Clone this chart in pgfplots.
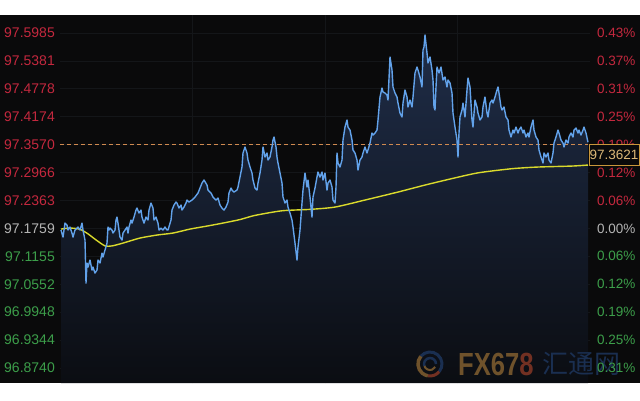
\documentclass[border=0pt]{standalone}
\usepackage{pgfplots}
\usepackage{pgfplotstable}
\pgfplotsset{compat=1.18}
\usepackage{fontspec}
\setmainfont{Liberation Sans}
\newfontfamily\cjk{Noto Sans CJK SC}
\definecolor{bgc}{HTML}{0A0A0B}
\definecolor{gridc}{HTML}{141619}
\definecolor{pred}{HTML}{C4283E}
\definecolor{pgray}{HTML}{B4B4B4}
\definecolor{pgreen}{HTML}{3C9E4A}
\definecolor{bluec}{HTML}{62A2EA}
\definecolor{yelc}{HTML}{DADA2C}
\definecolor{dashc}{HTML}{D08A50}
\definecolor{boxc}{HTML}{C8963A}
\definecolor{boxtext}{HTML}{DCB878}
\definecolor{filltop}{HTML}{1F2D48}
\definecolor{fillbot}{HTML}{0B0D12}
\definecolor{wmorange}{HTML}{7A5A2E}
\definecolor{wmred}{HTML}{7E3424}
\definecolor{wmblue}{HTML}{1C3358}

\pgfplotstableread{
x y
1 97.1723
3 97.1571
5 97.1874
7 97.1831
8 97.1723
10 97.1788
12 97.1658
13 97.1571
15 97.1723
17 97.1766
18 97.1788
20 97.1723
22 97.1874
23 97.1723
25 97.1506
26 97.0576
27 97.1009
28 97.0922
30 97.1074
32 97.0857
33 97.0922
35 97.0792
37 97.0857
38 97.1074
40 97.1009
42 97.1225
43 97.1139
45 97.1290
47 97.1441
48 97.1788
49 97.1723
50 97.1766
52 97.1723
53 97.1658
55 97.1723
56 97.1939
57 97.2004
58 97.1874
60 97.1571
62 97.1506
63 97.1658
65 97.1723
67 97.1788
68 97.1658
69 97.1788
71 97.1939
72 97.1874
74 97.2004
76 97.2155
77 97.2199
79 97.2091
81 97.2155
82 97.2004
84 97.1874
86 97.2004
88 97.1939
89 97.2155
91 97.2307
93 97.2199
94 97.1939
96 97.2004
98 97.1874
99 97.1723
101 97.1766
103 97.1723
105 97.1788
107 97.1723
108 97.1723
111 97.1939
112 97.2155
114 97.2264
116 97.2329
117 97.2307
119 97.2199
121 97.2264
122 97.2155
124 97.2220
126 97.2307
127 97.2372
129 97.2329
132 97.2372
135 97.2437
138 97.2523
142 97.2740
144 97.2805
147 97.2696
148 97.2588
151 97.2523
153 97.2437
156 97.2372
158 97.2415
160 97.2264
162 97.2199
164 97.2155
166 97.2220
168 97.2329
169 97.2523
171 97.2631
172 97.2588
174 97.2545
177 97.2588
178 97.2653
180 97.2869
182 97.3086
183 97.3389
185 97.3519
187 97.3389
188 97.3237
190 97.3086
192 97.2956
193 97.2805
195 97.2631
197 97.2588
198 97.2740
200 97.2956
202 97.3237
203 97.3519
205 97.3302
207 97.3389
208 97.3237
210 97.3302
212 97.3519
213 97.3670
214 97.3735
216 97.3519
217 97.3302
218 97.3172
220 97.2956
222 97.2740
223 97.2437
225 97.2307
227 97.2372
228 97.2220
230 97.2091
232 97.1939
233 97.1788
235 97.1441
237 97.1074
238 97.1355
240 97.1723
242 97.2307
243 97.2588
245 97.2956
247 97.2653
248 97.2805
250 97.2437
252 97.2004
253 97.2437
255 97.2631
257 97.2869
258 97.2978
260 97.2869
262 97.2978
263 97.2805
265 97.2956
267 97.2588
268 97.2740
270 97.2805
272 97.2653
273 97.2372
275 97.2307
276 97.2653
277 97.3389
278 97.3172
280 97.3086
282 97.3237
283 97.3670
285 97.3951
287 97.4103
288 97.3951
290 97.3886
292 97.3670
293 97.3454
295 97.3389
297 97.3237
298 97.3021
300 97.3237
302 97.3302
303 97.3389
305 97.3519
307 97.3389
308 97.3454
310 97.3605
312 97.3821
313 97.3778
315 97.3821
317 97.3886
318 97.4103
320 97.4600
322 97.4795
323 97.4708
325 97.4687
327 97.4644
328 97.4535
330 97.5466
332 97.5184
333 97.4817
335 97.4687
337 97.4600
338 97.4470
340 97.4254
342 97.4168
343 97.4470
345 97.4752
347 97.4600
348 97.4384
350 97.4535
352 97.4384
353 97.4600
355 97.5120
357 97.5249
358 97.5184
360 97.5033
362 97.4817
363 97.5617
364 97.5682
365 97.5942
367 97.5552
368 97.5336
370 97.5466
372 97.5184
373 97.4968
374 97.4384
375 97.4319
376 97.4817
377 97.5249
379 97.5120
381 97.5249
383 97.4968
385 97.5033
387 97.4817
388 97.4968
390 97.4903
392 97.4687
393 97.4254
395 97.3951
397 97.3670
398 97.3302
399 97.3821
400 97.4168
402 97.4319
403 97.4470
405 97.4168
407 97.4752
408 97.5011
410 97.4817
412 97.4103
413 97.3951
415 97.4535
417 97.4384
418 97.4254
420 97.4103
422 97.4168
423 97.4384
425 97.4600
427 97.4254
428 97.4168
430 97.4470
432 97.4535
433 97.4470
435 97.4600
437 97.4752
438 97.4817
439 97.4687
441 97.4384
442 97.4319
444 97.4384
446 97.4168
448 97.4103
449 97.3886
451 97.3735
453 97.3886
454 97.3821
456 97.3951
458 97.3821
459 97.3886
461 97.3951
463 97.3821
464 97.3886
466 97.3735
468 97.3821
469 97.3735
471 97.3951
473 97.4103
474 97.3886
476 97.3735
478 97.3670
479 97.3454
481 97.3302
483 97.3172
484 97.3389
486 97.3302
488 97.3389
489 97.3237
491 97.3172
493 97.3389
494 97.3605
496 97.3735
498 97.3886
499 97.3821
501 97.3670
503 97.3605
504 97.3519
506 97.3670
508 97.3605
509 97.3735
511 97.3821
513 97.3735
514 97.3886
516 97.3930
518 97.3821
519 97.3886
521 97.3778
523 97.3886
524 97.3951
526 97.3821
528 97.3621
}\pricedata

\pgfplotstableread{
x y
1 97.1744
10 97.1766
20 97.1740
28 97.1640
36 97.1510
45 97.1380
52 97.1380
63 97.1441
80 97.1550
97 97.1615
113 97.1658
130 97.1744
147 97.1809
163 97.1874
180 97.1950
195 97.2040
222 97.2140
250 97.2170
275 97.2220
305 97.2372
338 97.2545
365 97.2696
390 97.2826
418 97.2960
452 97.3050
478 97.3086
512 97.3107
528 97.3129
}\madata

\begin{document}
\begin{tikzpicture}
\fill[white] (0pt,0pt) rectangle (640pt,400pt);
\fill[bgc] (0pt,17pt) rectangle (640pt,385pt);
\begin{axis}[
  at={(60pt,17pt)}, anchor=south west, scale only axis,
  width=530pt, height=368pt,
  xmin=0, xmax=530, ymin=96.8415, ymax=97.6374,
  axis line style={draw=none},
  major tick length=0pt,
  xtick={132,265,397}, xticklabels={},
  ytick={96.8740,96.9344,96.9948,97.0552,97.1155,97.1759,97.2363,97.2966,97.3570,97.4174,97.4778,97.5381,97.5985},
  yticklabels={\textcolor{pgreen}{96.8740},\textcolor{pgreen}{96.9344},\textcolor{pgreen}{96.9948},\textcolor{pgreen}{97.0552},\textcolor{pgreen}{97.1155},\textcolor{pgray}{97.1759},\textcolor{pred}{97.2363},\textcolor{pred}{97.2966},\textcolor{pred}{97.3570},\textcolor{pred}{97.4174},\textcolor{pred}{97.4778},\textcolor{pred}{97.5381},\textcolor{pred}{97.5985}},
  yticklabel style={inner sep=0pt, anchor=east, xshift=-5pt, font=\fontsize{14}{14}\selectfont},
  grid=major, grid style={color=gridc, line width=0.6pt},
]
\addplot[draw=none, top color=filltop, bottom color=fillbot] table[x=x,y=y] {\pricedata} \closedcycle;
\addplot[color=dashc, dash pattern=on 4pt off 3pt, line width=0.9pt] coordinates {(0,97.3570) (528,97.3570)};
\addplot[color=yelc, line width=1.4pt, no marks, smooth, tension=0.4] table[x=x,y=y] {\madata};
\addplot[color=bluec, line width=1.4pt, no marks, line join=round] table[x=x,y=y] {\pricedata};
\end{axis}

% watermark
\begin{scope}[opacity=0.9]
\draw[wmblue, line width=3pt] (430pt,36pt) ++(-40:12pt) arc (-40:140:12pt);
\draw[wmorange, line width=3.5pt] (430pt,36pt) ++(140:12pt) arc (140:260:12pt);
\draw[wmred, line width=3pt] (430pt,36pt) ++(260:12pt) arc (260:320:12pt);
\draw[wmblue, line width=2.5pt] (430pt,36pt) ++(0:6pt) arc (0:200:6pt);
\draw[wmorange, line width=2pt] (430pt,36pt) ++(200:6pt) arc (200:330:6pt);
\node[anchor=west, inner sep=0pt, xscale=0.8, font=\bfseries\fontsize{32}{32}\selectfont] at (458pt,36pt) {\textcolor{wmorange}{FX67}\textcolor{wmred}{8}};
\node[anchor=west, inner sep=0pt, text=wmblue, font=\cjk\fontsize{26}{26}\selectfont] at (542pt,36pt) {汇通网};
\end{scope}

\begin{axis}[
  at={(60pt,17pt)}, anchor=south west, scale only axis,
  width=530pt, height=368pt,
  xmin=0, xmax=530, ymin=96.8415, ymax=97.6374,
  hide x axis, axis y line*=right,
  axis line style={draw=none},
  major tick length=0pt,
  ytick={96.8740,96.9344,96.9948,97.0552,97.1155,97.1759,97.2363,97.2966,97.3570,97.4174,97.4778,97.5381,97.5985},
  yticklabels={\textcolor{pgreen}{0.31\%},\textcolor{pgreen}{0.25\%},\textcolor{pgreen}{0.19\%},\textcolor{pgreen}{0.12\%},\textcolor{pgreen}{0.06\%},\textcolor{pgray}{0.00\%},\textcolor{pred}{0.06\%},\textcolor{pred}{0.12\%},\textcolor{pred}{0.19\%},\textcolor{pred}{0.25\%},\textcolor{pred}{0.31\%},\textcolor{pred}{0.37\%},\textcolor{pred}{0.43\%}},
  yticklabel style={inner sep=0pt, anchor=west, xshift=7pt, font=\fontsize{13.5}{13.5}\selectfont},
]
\addplot[draw=none] coordinates {(0,97.0)};
\end{axis}

\draw[boxc, fill=bgc, line width=1pt] (589pt,235pt) rectangle (639.5pt,256pt);
\node[anchor=west, inner sep=0pt, text=boxtext, font=\fontsize{13.5}{13.5}\selectfont] at (589.5pt,245.5pt) {97.3621};
\end{tikzpicture}
\end{document}
